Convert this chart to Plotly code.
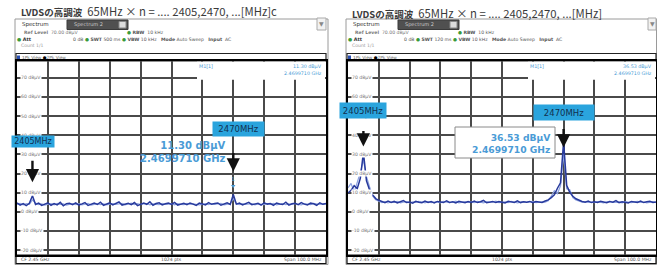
import plotly.graph_objects as go

W, H = 657, 265

# ---------------- data ----------------
freq = list(range(2400, 2501))  # MHz (CF 2.45 GHz, span 100 MHz)
y_ticks = [70, 60, 50, 40, 30, 20, 10, 0, -10, -20]
y_tick_labels = [f"{v} dBµV" for v in y_ticks]

harmonics = [2405, 2470]
harmonic_labels = ["2405MHz", "2470MHz"]
marker_freq = 2469.971
marker_level = {"left": 11.30, "right": 36.53}

left_pk1 = [4.6, 3.5, 4.3, 3.2, 4.4, 8.4, 3.8, 4.5, 3.3, 4.0,
            4.7, 3.4, 4.3, 3.6, 4.9, 3.1, 4.2, 4.4, 3.7, 4.6,
            3.5, 4.1, 4.8, 3.3, 4.0, 4.5, 3.8, 5.0, 3.4, 4.2,
            4.7, 3.6, 4.3, 5.1, 3.5, 4.0, 4.4, 3.7, 4.8, 3.2,
            4.1, 4.6, 3.9, 5.2, 3.4, 4.3, 4.7, 3.6, 4.2, 4.5,
            3.8, 4.9, 3.5, 4.1, 4.4, 3.7, 4.6, 4.0, 3.3, 4.5,
            4.2, 3.6, 4.8, 3.9, 4.3, 4.6, 3.4, 4.1, 4.7, 3.8,
            9.0, 4.0, 4.5, 3.6, 4.3, 4.9, 3.7, 4.2, 4.4, 3.5,
            4.7, 4.0, 4.3, 3.4, 4.6, 4.1, 3.8, 5.0, 3.5, 4.2,
            4.4, 3.7, 4.8, 4.0, 3.6, 4.5, 4.2, 3.4, 4.7, 3.9, 4.3]

left_pk2 = [3.8, 4.4, 3.6, 4.2, 3.9, 6.2, 4.5, 3.7, 4.1, 3.5,
            4.0, 4.3, 3.6, 4.4, 3.8, 4.1, 3.5, 3.9, 4.3, 3.7,
            4.2, 3.6, 4.0, 4.4, 3.5, 3.9, 4.2, 3.7, 4.1, 3.6,
            3.9, 4.3, 3.8, 4.0, 4.4, 3.6, 4.1, 4.5, 3.7, 4.2,
            3.8, 4.0, 4.3, 3.6, 4.1, 3.9, 3.7, 4.4, 3.8, 4.0,
            4.2, 3.6, 4.3, 3.9, 3.7, 4.4, 3.8, 4.1, 4.0, 3.6,
            3.9, 4.3, 3.7, 4.2, 3.8, 4.0, 4.4, 3.6, 3.9, 4.2,
            6.8, 4.1, 3.7, 4.3, 3.8, 4.0, 4.2, 3.6, 4.1, 3.9,
            3.7, 4.3, 3.8, 4.4, 3.6, 4.0, 4.2, 3.7, 4.1, 3.9,
            4.3, 3.8, 3.6, 4.2, 4.0, 3.7, 4.4, 3.9, 3.8, 4.1, 4.0]

right_pk1 = [9.8, 11.2, 13.6, 12.1, 17.4, 31.0, 16.2, 11.4, 8.8, 6.9,
             6.0, 5.3, 4.7, 5.6, 4.9, 5.4, 4.6, 5.2, 5.8, 4.8,
             5.1, 4.5, 5.5, 5.0, 4.7, 5.6, 4.9, 5.3, 4.6, 5.4,
             5.0, 4.8, 5.7, 4.9, 5.2, 4.6, 5.5, 5.1, 4.7, 5.3,
             4.9, 5.6, 4.8, 5.2, 5.9, 4.7, 5.1, 5.4, 4.8, 5.3,
             5.0, 4.6, 5.5, 5.1, 4.9, 5.7, 4.8, 5.2, 5.0, 5.4,
             4.7, 5.3, 5.1, 4.9, 5.6, 6.2, 7.4, 8.9, 12.3, 15.1,
             36.5, 13.8, 10.2, 8.1, 6.8, 6.0, 5.4, 5.0, 5.6, 4.8,
             5.2, 4.9, 5.5, 5.1, 4.7, 5.3, 5.0, 5.8, 4.8, 5.2,
             5.0, 4.6, 5.4, 5.1, 4.9, 5.6, 4.8, 5.2, 5.5, 4.9, 5.1]

right_pk2 = [12.5, 14.8, 10.2, 15.3, 20.5, 27.0, 18.4, 13.1, 8.2, 6.3,
             5.5, 4.8, 5.3, 4.6, 5.1, 4.9, 5.4, 4.7, 5.0, 5.3,
             4.6, 5.2, 4.9, 5.4, 5.1, 4.7, 5.3, 4.8, 5.0, 5.2,
             4.7, 5.4, 5.0, 4.8, 5.1, 5.5, 4.7, 5.0, 5.3, 4.9,
             5.2, 4.8, 5.4, 5.0, 4.7, 5.3, 4.9, 5.1, 5.5, 4.8,
             5.0, 5.2, 4.8, 5.4, 5.1, 4.7, 5.0, 5.3, 4.9, 5.1,
             5.4, 4.8, 5.0, 5.2, 5.0, 5.8, 8.2, 11.0, 9.4, 13.6,
             30.2, 12.0, 11.5, 7.4, 6.2, 5.5, 5.0, 5.3, 4.9, 5.1,
             4.8, 5.3, 5.0, 4.7, 5.2, 5.4, 4.9, 5.1, 5.0, 4.7,
             5.3, 5.0, 4.8, 5.2, 5.4, 4.9, 5.1, 4.7, 5.0, 5.3, 4.8]

titles = ["LVDSの高調波", "LVDSの高調波"]
subtitles = ["65MHz × n = .... 2405,2470, ...[MHz]c", "65MHz × n = .... 2405,2470, ...[MHz]"]

# ---------------- styling ----------------
Y_RANGE = [-22.6, 78.8]
PLOT_TOP, PLOT_BOT = 61, 255
PANELS = {"left": dict(x0=17, x1=326, dx=0, xa="x", ya="y"),
          "right": dict(x0=348, x1=656, dx=331, xa="x2", ya="y2")}
DARK_BLUE = "#283a9c"
LIGHT_BLUE = "#8ea3e0"
MK_BLUE = "#4a9bd6"
BOX_BLUE = "#2aa4dd"
GRID = "#4a4a4a"

def px(x): return x / W
def py(y): return 1 - y / H

shapes, annotations = [], []

def rect(x0, y0, x1, y1, fill=None, line=None, lw=1, layer="below"):
    shapes.append(dict(type="rect", xref="paper", yref="paper",
                       x0=px(x0), x1=px(x1), y0=py(y1), y1=py(y0),
                       fillcolor=fill or "rgba(0,0,0,0)",
                       line=dict(color=line or "rgba(0,0,0,0)", width=lw if line else 0),
                       layer=layer))

def text(x, y, s, size=5, color="#666", anchor="left", family="DejaVu Sans"):
    annotations.append(dict(xref="paper", yref="paper", x=px(x), y=py(y), text=s,
                            showarrow=False, xanchor=anchor, yanchor="middle",
                            borderpad=0, font=dict(size=size, color=color, family=family)))

fig = go.Figure()

# traces
for key, pk1, pk2 in [("left", left_pk1, left_pk2), ("right", right_pk1, right_pk2)]:
    p = PANELS[key]
    fig.add_trace(go.Scatter(x=freq, y=pk2, xaxis=p["xa"], yaxis=p["ya"], mode="lines",
                             line=dict(color=LIGHT_BLUE, width=1.2), hoverinfo="skip"))
    fig.add_trace(go.Scatter(x=freq, y=pk1, xaxis=p["xa"], yaxis=p["ya"], mode="lines",
                             line=dict(color=DARK_BLUE, width=1.5), hoverinfo="skip"))
    fig.add_trace(go.Scatter(x=[marker_freq], y=[marker_level[key] + 2.2], xaxis=p["xa"], yaxis=p["ya"],
                             mode="markers+text", text=["1"], textposition="top center",
                             textfont=dict(size=5, color=MK_BLUE),
                             marker=dict(symbol="triangle-down", size=4, color=MK_BLUE),
                             hoverinfo="skip"))

# chrome per panel
info = {"left": ("500 ms", "Count 1/1"), "right": ("120 ms", "Count 1/1")}
for i, key in enumerate(["left", "right"]):
    p = PANELS[key]
    dx = p["dx"]
    x0, x1 = p["x0"], p["x1"]
    # window frame (outline only)
    rect(15 + dx, 19, min(328 + dx, 656.5), 264.5, line="#9a9a9a", lw=1)
    # title
    ty = 11.5 if key == "left" else 13
    annotations.append(dict(xref="paper", yref="paper", x=px(20 + dx), y=py(ty),
                            text=f"<b><span style='font-size:9.5px'>{titles[i]}</span></b>  {subtitles[i]}",
                            showarrow=False,
                            xanchor="left", yanchor="middle", borderpad=0,
                            font=dict(size=11.3, color="#3a3a3a", family="Noto Sans CJK JP")))
    # tabs
    text(21 + dx, 24.5, "Spectrum", size=5.5, color="#333")
    rect(67 + dx, 20, 128 + dx, 29.5, fill="#505050", line="#3a3a3a")
    text(73 + dx, 24.5, "Spectrum 2", size=5, color="#c8c8c8")
    rect(119 + dx, 21.5, 126 + dx, 28, fill="#dcdcdc", line="#888")
    rect(317 + dx, 18, min(326 + dx, 656), 30, fill="#f2f2f2", line="#aaa")
    text(321.5 + dx, 24, "▼", size=6, color="#888", anchor="center")
    # info rows
    text(23 + dx, 33, "<b>Ref Level</b>  70.00 dBµV", size=4.6, color="#777")
    text(126 + dx, 33, "<span style='color:#3a9a3a'>●</span> <b>RBW</b>  10 kHz", size=4.6, color="#555")
    text(16 + dx, 39.5, "<span style='color:#3a9a3a'>●</span> <b>Att</b>", size=4.8, color="#333")
    text(72 + dx, 39.5,
         f"0 dB <span style='color:#3a9a3a'>●</span> <b>SWT</b> {info[key][0]} "
         f"<span style='color:#3a9a3a'>●</span> <b>VBW</b> 10 kHz   <b>Mode</b> Auto Sweep   <b>Input</b>  AC",
         size=4.6, color="#555")
    text(20 + dx, 46, info[key][1], size=4.6, color="#999")
    # trace header bar
    rect(x0 - 1, 53.5, x1, 61, fill="white", line="#222", lw=1.2)
    rect(x0, 55.5, x0 + 3, 59, fill="#2a4fb0")
    text(x0 + 4, 57.3, "1Pk View <span style='color:#000'>●</span>2Pk View", size=4.3, color="#666")
    # marker table box (top right of the diagram)
    rect(197 + dx, 61.8, x1 - 1, 79.8, fill="white", layer="above")
    text(198 + dx, 66.5, "M1[1]", size=4.8, color=MK_BLUE)
    lv = marker_level[key]
    text(x1 - 3, 66.5, f"{lv:.2f} dBµV", size=4.8, color=MK_BLUE, anchor="right")
    text(x1 - 3, 73.5, f"{marker_freq/1000:.7f} GHz", size=4.8, color=MK_BLUE, anchor="right")
    # status bar
    rect(x0 - 1, PLOT_BOT, x1, 263.5, fill="white", line="#111", lw=1.2)
    text(x0 + 3, 259.3, "CF 2.45 GHz", size=4.6, color="#555")
    text((x0 + x1) / 2, 259.3, "1024 pts", size=4.6, color="#555", anchor="center")
    text(x1 - 3, 259.3, "Span 100.0 MHz", size=4.6, color="#555", anchor="right")
    # y tick labels (inside, sitting on their grid lines)
    for v, lab in zip(y_ticks, y_tick_labels):
        annotations.append(dict(xref=p["xa"], yref=p["ya"], x=freq[0], y=v, text=lab,
                                showarrow=False, xanchor="left", yanchor="middle", xshift=3,
                                bgcolor="white", borderpad=0,
                                font=dict(size=4.6, color="#777", family="DejaVu Sans")))

# harmonic labels and arrows
label_cfg = {
    "left": [dict(y=36.7, w=42, h=11, xs=1, fs=8), dict(y=43.4, w=51, h=14, xs=5, fs=8.5)],
    "right": [dict(y=53.1, w=46, h=15, xs=0, fs=8.5), dict(y=52.0, w=60, h=15, xs=0, fs=8.5)],
}
arrow_cfg = {
    "left": [dict(y=15.4, ay=-23), dict(y=21.1, ay=-20)],
    "right": [dict(y=34.1, ay=-17), dict(y=33.6, ay=-20)],
}
for key in ["left", "right"]:
    p = PANELS[key]
    for j, (f, lab) in enumerate(zip(harmonics, harmonic_labels)):
        lc = label_cfg[key][j]
        annotations.append(dict(xref=p["xa"], yref=p["ya"], x=f, y=lc["y"], text=lab,
                                showarrow=False, xanchor="center", yanchor="middle",
                                xshift=lc["xs"], width=lc["w"], height=lc["h"],
                                bgcolor=BOX_BLUE, borderpad=0,
                                font=dict(size=lc["fs"], color="#12304f", family="DejaVu Sans")))
        ac = arrow_cfg[key][j]
        annotations.append(dict(xref=p["xa"], yref=p["ya"], x=f, y=ac["y"], text="",
                                showarrow=True, ax=0, ay=ac["ay"], arrowhead=2,
                                arrowsize=1.1, arrowwidth=2.4, arrowcolor="#111"))

# big marker readouts
rect(455, 127, 555, 158, fill="white", line="#8a8a8a", lw=1, layer="above")
annotations.append(dict(xref="x", yref="y", x=2468, y=31.2,
                        text=f"<b>{marker_level['left']:.2f} dBµV<br>{marker_freq/1000:.7f} GHz</b>",
                        showarrow=False, xanchor="right", yanchor="middle", align="right",
                        borderpad=0, font=dict(size=10, color=MK_BLUE, family="DejaVu Sans")))
annotations.append(dict(xref="x2", yref="y2", x=2466.3, y=35.9,
                        text=f"<b>{marker_level['right']:.2f} dBµV<br>{marker_freq/1000:.7f} GHz</b>",
                        showarrow=False, xanchor="right", yanchor="middle", align="right",
                        borderpad=0, font=dict(size=9.2, color=MK_BLUE, family="DejaVu Sans")))

def xax(p):
    return dict(domain=[px(p["x0"]), px(p["x1"])], range=[2400, 2500], tick0=2400, dtick=10,
                showgrid=True, gridcolor=GRID, gridwidth=1.5, zeroline=False,
                showticklabels=False, ticks="", showline=True, linecolor="#000",
                linewidth=2, mirror=True, fixedrange=True)

def yax(p):
    return dict(domain=[py(PLOT_BOT), py(PLOT_TOP)], range=Y_RANGE, tick0=0, dtick=10,
                showgrid=True, gridcolor=GRID, gridwidth=1.5, zeroline=False,
                showticklabels=False, ticks="", showline=True, linecolor="#000",
                linewidth=2, mirror=True, fixedrange=True)

fig.update_layout(
    width=W, height=H, margin=dict(l=0, r=0, t=0, b=0),
    paper_bgcolor="white", plot_bgcolor="white", showlegend=False,
    xaxis=dict(**xax(PANELS["left"]), anchor="y"),
    yaxis=dict(**yax(PANELS["left"]), anchor="x"),
    xaxis2=dict(**xax(PANELS["right"]), anchor="y2"),
    yaxis2=dict(**yax(PANELS["right"]), anchor="x2"),
    shapes=shapes, annotations=annotations,
    font=dict(family="DejaVu Sans"),
)

fig.write_html("out.html", config={"displayModeBar": False},
               post_script="document.body.style.margin='0';document.body.style.overflow='hidden';")
